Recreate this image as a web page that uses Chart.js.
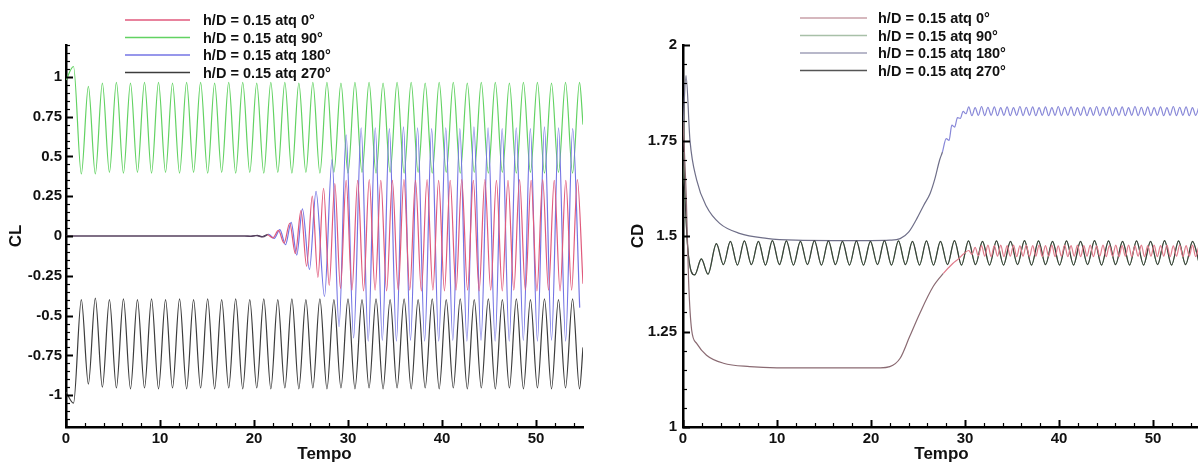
<!DOCTYPE html>
<html>
<head>
<meta charset="utf-8">
<script src="https://cdn.jsdelivr.net/npm/chart.js@4.4.0/dist/chart.umd.min.js"></script>
<style>
  html, body { margin: 0; padding: 0; background: #fff; overflow: hidden; }
  canvas { position: absolute; top: 0; }
  #cl { left: 0; }
  #cd { left: 600px; }
</style>
</head>
<body>
<canvas id="cl" width="600" height="463"></canvas>
<canvas id="cd" width="600" height="463"></canvas>
<script>
const LABELS = ["h/D = 0.15 atq 0°", "h/D = 0.15 atq 90°", "h/D = 0.15 atq 180°", "h/D = 0.15 atq 270°"];

/* ---- CL panel (left): times of peaks/troughs ---- */
const T_CL_GB = [0, 0.8,
  1.63, 2.38, 3.12, 3.87, 4.62, 5.36, 6.11, 6.86, 7.60, 8.35, 9.10, 9.84,
  10.59, 11.33, 12.08, 12.83, 13.57, 14.32, 15.07, 15.81, 16.56, 17.31, 18.05, 18.80,
  19.55, 20.29, 21.04, 21.79, 22.53, 23.28, 24.03, 24.77, 25.52, 26.26, 27.01, 27.76,
  28.50, 29.25, 30.00, 30.74, 31.49, 32.24, 32.98, 33.73, 34.48, 35.22, 35.97, 36.72,
  37.46, 38.21, 38.96, 39.70, 40.45, 41.20, 41.94, 42.69, 43.43, 44.18, 44.93, 45.67,
  46.42, 47.17, 47.91, 48.66, 49.41, 50.15, 50.90, 51.65, 52.39, 53.14, 53.89, 54.63,
  55.0];
const CL90 = [0.98, 1.065,
  0.39, 0.94, 0.39, 0.96, 0.40, 0.965, 0.395, 0.96, 0.40, 0.965, 0.395, 0.965,
  0.40, 0.96, 0.395, 0.965, 0.40, 0.965, 0.395, 0.96, 0.40, 0.965, 0.395, 0.965,
  0.40, 0.96, 0.395, 0.965, 0.40, 0.965, 0.395, 0.96, 0.40, 0.965, 0.395, 0.965,
  0.40, 0.96, 0.395, 0.965, 0.40, 0.965, 0.395, 0.96, 0.40, 0.965, 0.395, 0.965,
  0.40, 0.96, 0.395, 0.965, 0.40, 0.965, 0.395, 0.96, 0.40, 0.965, 0.395, 0.965,
  0.40, 0.96, 0.395, 0.965, 0.40, 0.965, 0.395, 0.96, 0.40, 0.965, 0.395, 0.965,
  0.70];
const CL270 = [-0.98, -1.05,
  -0.40, -0.93, -0.39, -0.95, -0.40, -0.955, -0.395, -0.96, -0.40, -0.955, -0.395, -0.96,
  -0.40, -0.955, -0.395, -0.96, -0.40, -0.955, -0.395, -0.96, -0.40, -0.955, -0.395, -0.96,
  -0.40, -0.955, -0.395, -0.96, -0.40, -0.955, -0.395, -0.96, -0.40, -0.955, -0.395, -0.96,
  -0.40, -0.955, -0.395, -0.96, -0.40, -0.955, -0.395, -0.96, -0.40, -0.955, -0.395, -0.96,
  -0.40, -0.955, -0.395, -0.96, -0.40, -0.955, -0.395, -0.96, -0.40, -0.955, -0.395, -0.96,
  -0.40, -0.955, -0.395, -0.96, -0.40, -0.955, -0.395, -0.96, -0.40, -0.955, -0.395, -0.96,
  -0.70];

const T_CL0 = [0, 19.0, 19.6, 20.2, 20.8, 21.4, 22.0, 22.6, 23.2, 23.8, 24.4, 25.0, 25.6, 26.2,
  26.8, 27.4, 28.0, 28.6, 29.2, 29.8,
  30.42, 31.03, 31.65, 32.26, 32.88, 33.49, 34.11, 34.72, 35.34, 35.95,
  36.57, 37.18, 37.80, 38.41, 39.03, 39.64, 40.26, 40.87, 41.49, 42.10,
  42.72, 43.33, 43.95, 44.56, 45.18, 45.79, 46.41, 47.02, 47.64, 48.25,
  48.87, 49.48, 50.10, 50.71, 51.33, 51.94, 52.56, 53.17, 53.79, 54.40,
  55.0];
const CL0 = [0, 0, -0.002, 0.003, -0.004, 0.008, -0.012, 0.035, -0.045, 0.08, -0.11, 0.16, -0.19, 0.25,
  -0.26, 0.30, -0.31, 0.33, -0.33, 0.35,
  -0.34, 0.35, -0.345, 0.355, -0.34, 0.35, -0.345, 0.35, -0.34, 0.355,
  -0.34, 0.35, -0.345, 0.355, -0.34, 0.35, -0.345, 0.35, -0.34, 0.355,
  -0.34, 0.35, -0.345, 0.355, -0.34, 0.35, -0.345, 0.35, -0.34, 0.355,
  -0.34, 0.35, -0.345, 0.355, -0.34, 0.35, -0.345, 0.35, -0.34, 0.355,
  -0.30];

const T_CL180 = [0, 19.0, 19.75, 20.35, 20.95, 21.55, 22.15, 22.75, 23.35, 23.95, 24.55, 25.15,
  25.9, 26.6, 27.5, 28.3, 29.05, 29.8, 30.6, 31.4,
  32.15, 32.9, 33.65, 34.4, 35.15, 35.9, 36.65, 37.4, 38.15, 38.9,
  39.65, 40.4, 41.15, 41.9, 42.65, 43.4, 44.15, 44.9, 45.65, 46.4,
  47.15, 47.9, 48.65, 49.4, 50.15, 50.9, 51.65, 52.4, 53.15, 53.9,
  54.65, 55.0];
const CL180 = [0, 0, -0.002, 0.004, -0.006, 0.01, -0.015, 0.04, -0.055, 0.085, -0.12, 0.17,
  -0.21, 0.28, -0.38, 0.48, -0.57, 0.635, -0.64, 0.68,
  -0.66, 0.68, -0.655, 0.675, -0.66, 0.685, -0.655, 0.68, -0.66, 0.675,
  -0.66, 0.68, -0.655, 0.675, -0.66, 0.685, -0.655, 0.68, -0.66, 0.675,
  -0.66, 0.68, -0.655, 0.675, -0.66, 0.685, -0.655, 0.68, -0.66, 0.675,
  -0.45];

/* ---- CD panel (right) ---- */
const T_CD_K = [0, 0.5, 1.25, 1.95, 2.66,
  3.55, 4.30, 5.04, 5.79, 6.53, 7.28, 8.02, 8.77, 9.51, 10.26,
  11.00, 11.75, 12.49, 13.24, 13.98, 14.73, 15.47, 16.22, 16.96, 17.71,
  18.45, 19.20, 19.94, 20.69, 21.43, 22.18, 22.92, 23.67, 24.41, 25.16,
  25.90, 26.65, 27.39, 28.14, 28.88, 29.63, 30.37, 31.12, 31.86, 32.61,
  33.35, 34.10, 34.84, 35.59, 36.33, 37.08, 37.82, 38.57, 39.31, 40.06,
  40.80, 41.55, 42.29, 43.04, 43.78, 44.53, 45.27, 46.02, 46.76, 47.51,
  48.25, 49.00, 49.74, 50.49, 51.23, 51.98, 52.72, 53.47, 54.21, 54.96];
const CD270 = [1.72, 1.47, 1.398, 1.44, 1.40,
  1.48, 1.425, 1.486, 1.424, 1.487, 1.425, 1.486, 1.424, 1.488, 1.425,
  1.487, 1.424, 1.486, 1.425, 1.488, 1.424, 1.487, 1.425, 1.486, 1.424,
  1.487, 1.424, 1.486, 1.425, 1.488, 1.424, 1.487, 1.425, 1.486, 1.424,
  1.487, 1.424, 1.486, 1.425, 1.488, 1.424, 1.487, 1.425, 1.486, 1.424,
  1.487, 1.424, 1.486, 1.425, 1.488, 1.424, 1.487, 1.425, 1.486, 1.424,
  1.487, 1.424, 1.486, 1.425, 1.488, 1.424, 1.487, 1.425, 1.486, 1.424,
  1.487, 1.424, 1.486, 1.425, 1.488, 1.424, 1.487, 1.425, 1.486, 1.424];
// the 90° drag curve lies right under the 270° one
const CD90 = CD270.slice();

// shared grid of the small drag ripples after t = 30
const T_OSC = [30.40, 30.74, 31.08, 31.42, 31.76, 32.10, 32.44, 32.78, 33.12, 33.46,
  33.80, 34.14, 34.48, 34.82, 35.16, 35.50, 35.84, 36.18, 36.52, 36.86,
  37.20, 37.54, 37.88, 38.22, 38.56, 38.90, 39.24, 39.58, 39.92, 40.26,
  40.60, 40.94, 41.28, 41.62, 41.96, 42.30, 42.64, 42.98, 43.32, 43.66,
  44.00, 44.34, 44.68, 45.02, 45.36, 45.70, 46.04, 46.38, 46.72, 47.06,
  47.40, 47.74, 48.08, 48.42, 48.76, 49.10, 49.44, 49.78, 50.12, 50.46,
  50.80, 51.14, 51.48, 51.82, 52.16, 52.50, 52.84, 53.18, 53.52, 53.86,
  54.20, 54.54, 54.88];

const T_CD180_START = [0, 0.32, 0.74, 1.45, 2.5, 3.9, 6.0, 8.9, 12, 16, 20, 22, 23.1, 24.0,
  24.8, 25.6, 26.3, 26.8, 27.3, 27.6, 28.0, 28.3, 28.6, 28.9, 29.2, 29.5, 29.8, 30.1];
const CD180_START = [1.78, 1.92, 1.751, 1.647, 1.577, 1.533, 1.507, 1.494, 1.489, 1.488, 1.488, 1.489, 1.493, 1.51,
  1.542, 1.58, 1.612, 1.65, 1.699, 1.72, 1.755, 1.75, 1.79, 1.785, 1.81, 1.808, 1.826, 1.82];
const CD180_OSC = [
  1.838, 1.815, 1.836, 1.816, 1.839, 1.815, 1.837, 1.816, 1.838, 1.815, 1.836, 1.816,
  1.838, 1.815, 1.836, 1.816, 1.839, 1.815, 1.837, 1.816, 1.838, 1.815, 1.836, 1.816,
  1.838, 1.815, 1.836, 1.816, 1.839, 1.815, 1.837, 1.816, 1.838, 1.815, 1.836, 1.816,
  1.838, 1.815, 1.836, 1.816, 1.839, 1.815, 1.837, 1.816, 1.838, 1.815, 1.836, 1.816,
  1.838, 1.815, 1.836, 1.816, 1.839, 1.815, 1.837, 1.816, 1.838, 1.815, 1.836, 1.816,
  1.838, 1.815, 1.836, 1.816, 1.839, 1.815, 1.837, 1.816, 1.838, 1.815, 1.836, 1.816,
  1.838];

const T_CD0_START = [0, 0.35, 0.6, 0.92, 1.45, 2.5, 4.3, 7.1, 10, 14, 18, 21, 22.0, 23.1,
  24.1, 25.2, 26.6, 27.7, 28.7, 29.3, 29.8];
const CD0_START = [1.80, 1.60, 1.38, 1.254, 1.219, 1.188, 1.167, 1.158, 1.155, 1.155, 1.155, 1.155, 1.158, 1.18,
  1.236, 1.298, 1.367, 1.402, 1.428, 1.44, 1.452];
const CD0_OSC = [
  1.462, 1.452, 1.47, 1.448, 1.475, 1.447, 1.476, 1.446, 1.475, 1.447, 1.476, 1.446,
  1.475, 1.447, 1.476, 1.446, 1.474, 1.447, 1.476, 1.446, 1.475, 1.447, 1.476, 1.446,
  1.475, 1.447, 1.476, 1.446, 1.474, 1.447, 1.476, 1.446, 1.475, 1.447, 1.476, 1.446,
  1.475, 1.447, 1.476, 1.446, 1.474, 1.447, 1.476, 1.446, 1.475, 1.447, 1.476, 1.446,
  1.475, 1.447, 1.476, 1.446, 1.474, 1.447, 1.476, 1.446, 1.475, 1.447, 1.476, 1.446,
  1.475, 1.447, 1.476, 1.446, 1.474, 1.447, 1.476, 1.446, 1.475, 1.447, 1.476, 1.446,
  1.475];

const T_CD180 = T_CD180_START.concat(T_OSC), CD180 = CD180_START.concat(CD180_OSC);
const T_CD0 = T_CD0_START.concat(T_OSC), CD0 = CD0_START.concat(CD0_OSC);

/* ---- helpers ---- */
const FONT = '"Liberation Sans", Arial, Helvetica, sans-serif';
Chart.defaults.font.family = FONT;

function pts(T, V) {
  if (T.length !== V.length) console.warn("length mismatch", T.length, V.length);
  return T.map((t, i) => ({x: t, y: V[i]}));
}
const near = (v, step) => Math.abs(v / step - Math.round(v / step)) < 1e-6;
const fmt = v => String(Math.round(v * 100) / 100);

function line(label, T, V, color, order, extra) {
  return Object.assign({
    label, data: pts(T, V), borderColor: color, legendColor: color,
    borderWidth: 1.2, pointRadius: 0, fill: false, order,
    cubicInterpolationMode: 'monotone'
  }, extra || {});
}
const darkBefore = (tx, c) => ({segment: {borderColor: ctx => ctx.p0.parsed.x < tx ? c : undefined}});

// tecplot style ticks pointing into the plot
const inwardTicks = {
  id: 'inwardTicks',
  afterDraw(chart) {
    const {ctx, chartArea: a, scales: {x, y}} = chart;
    ctx.save();
    ctx.strokeStyle = '#000';
    x.ticks.forEach(t => {
      if (!near(t.value, 2)) return;
      const major = near(t.value, 10);
      const px = Math.round(x.getPixelForValue(t.value)) + 0.5;
      ctx.lineWidth = major ? 2 : 1.2;
      ctx.beginPath(); ctx.moveTo(px, a.bottom); ctx.lineTo(px, a.bottom - (major ? 7 : 4)); ctx.stroke();
    });
    y.ticks.forEach(t => {
      const major = near(t.value, 0.25);
      const py = Math.round(y.getPixelForValue(t.value)) + 0.5;
      ctx.lineWidth = major ? 2 : 1.2;
      ctx.beginPath(); ctx.moveTo(a.left, py); ctx.lineTo(a.left + (major ? 7 : 4), py); ctx.stroke();
    });
    ctx.restore();
  }
};

const lineLegend = {
  id: 'lineLegend',
  afterDraw(chart, args, o) {
    const ctx = chart.ctx;
    ctx.save();
    ctx.font = 'bold 14.5px ' + FONT;
    ctx.textBaseline = 'middle';
    ctx.fillStyle = '#111';
    chart.data.datasets.forEach((ds, i) => {
      const yy = o.y + i * o.dy;
      ctx.strokeStyle = ds.legendColor;
      ctx.lineWidth = 1.5;
      ctx.beginPath(); ctx.moveTo(o.x0, yy); ctx.lineTo(o.x1, yy); ctx.stroke();
      ctx.fillText(ds.label, o.tx, yy + 1);
    });
    ctx.restore();
  }
};

function scales(yMin, yMax, yTitle, yWidth, titlePad, labelPad) {
  const tickFont = {size: 15, weight: 'bold'};
  return {
    x: {
      type: 'linear', min: 0, max: 55,
      afterFit: s => { s.height = 36; s.paddingLeft = 0; s.paddingRight = 0; },
      grid: {display: false, drawTicks: false},
      border: {display: true, color: '#000', width: 2.5},
      ticks: {stepSize: 2, autoSkip: false, includeBounds: false, maxRotation: 0, padding: 3,
        color: '#111', font: tickFont, callback: v => near(v, 10) ? fmt(v) : ''},
      title: {display: true, text: 'Tempo', color: '#111', font: {size: 17, weight: 'bold'},
        padding: {top: 0, bottom: -2}}
    },
    y: {
      type: 'linear', min: yMin, max: yMax,
      afterFit: s => { s.width = yWidth; s.paddingTop = 0; s.paddingBottom = 0; },
      grid: {display: false, drawTicks: false},
      border: {display: true, color: '#000', width: 2.5},
      ticks: {stepSize: 0.05, autoSkip: false, includeBounds: false, padding: labelPad,
        color: '#111', font: tickFont, callback: v => near(v, 0.25) ? fmt(v) : ''},
      title: {display: true, text: yTitle, color: '#111', font: {size: 17, weight: 'bold'},
        padding: {top: titlePad, bottom: 0}}
    }
  };
}

function common(pad, leg, sc) {
  return {
    responsive: false, animation: false, events: [],
    layout: {padding: pad},
    scales: sc,
    plugins: {legend: {display: false}, tooltip: {enabled: false}, lineLegend: leg}
  };
}

/* ---- CL chart ---- */
const DARK_CL = '#56405f';
new Chart(document.getElementById('cl'), {
  type: 'line',
  data: {datasets: [
    line(LABELS[0], T_CL0, CL0, '#e05a7c', 0, darkBefore(21, DARK_CL)),
    line(LABELS[1], T_CL_GB, CL90, '#62d262', 3),
    line(LABELS[2], T_CL180, CL180, '#7474e4', 1, darkBefore(21, DARK_CL)),
    line(LABELS[3], T_CL_GB, CL270, '#3c3c3c', 2)
  ]},
  options: common({left: 0, right: 17, top: 45, bottom: 0},
    {x0: 125, x1: 190, tx: 203, y: 20, dy: 17.5},
    scales(-1.2, 1.2, 'CL', 66, 6, 4)),
  plugins: [inwardTicks, lineLegend]
});

/* ---- CD chart ---- */
const cdSets = [
  line(LABELS[0], T_CD0, CD0, '#e07a8a', 0, darkBefore(27.5, '#8a6a72')),
  line(LABELS[1], T_CD_K, CD90, '#7fb87f', 3),
  line(LABELS[2], T_CD180, CD180, '#8888d8', 2, darkBefore(27.5, '#6e6e88')),
  line(LABELS[3], T_CD_K, CD270, '#3c3c3c', 1)
];
['#c8a0a8', '#a8c0a8', '#a0a0b8', '#555'].forEach((c, i) => { cdSets[i].legendColor = c; });
new Chart(document.getElementById('cd'), {
  type: 'line',
  data: {datasets: cdSets},
  options: common({left: 0, right: 0, top: 45, bottom: 0},
    {x0: 200, x1: 267, tx: 278, y: 18, dy: 17.5},
    scales(1, 2, 'CD', 83, 28, 6)),
  plugins: [inwardTicks, lineLegend]
});
</script>
</body>
</html>
